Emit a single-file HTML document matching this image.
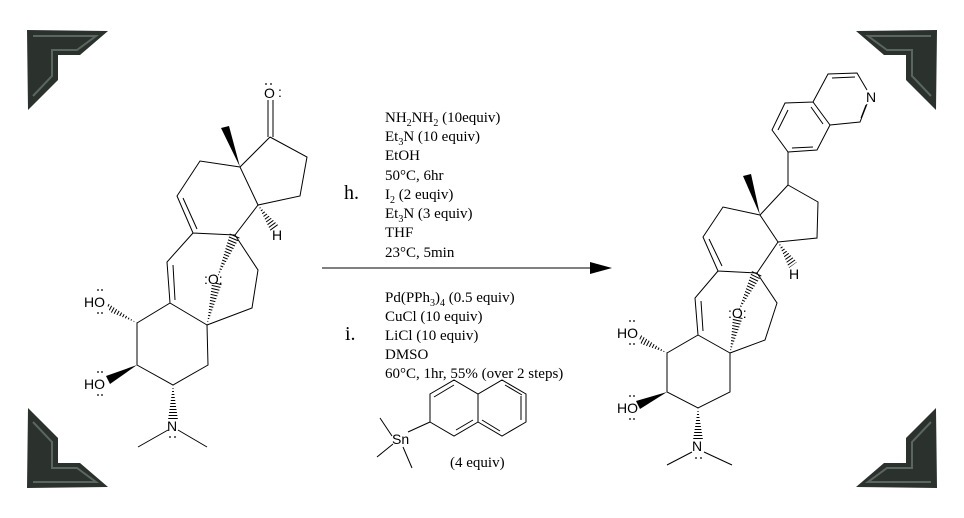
<!DOCTYPE html>
<html><head><meta charset="utf-8"><style>
html,body{margin:0;padding:0;background:#fff;}
svg{display:block;}
.s{font-family:"Liberation Serif",serif;font-size:15px;fill:#000;}
.a{font-family:"Liberation Sans",sans-serif;font-size:14px;fill:#000;}
</style></head><body>
<svg width="964" height="518" viewBox="0 0 964 518" xmlns="http://www.w3.org/2000/svg">
<defs>
<g id="corner">
<polygon points="27,30 108,31 80,55 58,55 58,80 28,110" fill="#2b312d"/>
<polyline points="33,36 96,36 77,50 52,50 52,76 33,96" fill="none" stroke="#5c6660" stroke-width="2"/>
</g>
<clipPath id="h1"><polygon points="137,323 106,302 110,312"/></clipPath>
<clipPath id="h2"><polygon points="258,205 279,226 271,232"/></clipPath>
<clipPath id="h3"><polygon points="217,278 230,233 240,237"/></clipPath>
<clipPath id="h4"><polygon points="212,283 222,283 207,325"/></clipPath>
<clipPath id="h5"><polygon points="173,385 168,420 178,420"/></clipPath>
<clipPath id="r1"><polygon points="667,353 638,333 641,344"/></clipPath>
<clipPath id="r2"><polygon points="778,242 797,262 789,268"/></clipPath>
<clipPath id="r3"><polygon points="738,312 752,271 762,275"/></clipPath>
<clipPath id="r4"><polygon points="733,317 743,317 730,353"/></clipPath>
<clipPath id="r5"><polygon points="698,408 693,440 703,440"/></clipPath>
</defs>
<use href="#corner"/>
<use href="#corner" transform="translate(964,0) scale(-1,1)"/>
<use href="#corner" transform="translate(0,518) scale(1,-1)"/>
<use href="#corner" transform="translate(964,518) scale(-1,-1)"/>

<g stroke="#000" stroke-width="1" fill="none">
<path d="M270,137 L307,157 L300,196 L258,205 L240,167 L270,137 M240,167 L200,161 L177,196 L193,233 L235,235 L258,205 M193,233 L167,262 L170,303 L137,323 L137,365 L173,385 L208,365 L207,325 L170,303 M207,325 L252,308 L258,270 L235,235 M168,430 L138,447 M178,430 L207,447"/>
<path d="M268,137 L268,100 M273,137 L273,100"/>
<path d="M183,198 L197,229 M173,265 L175,300"/>
<path d="M788,185 L818,202 L817,238 L778,242 L760,215 L788,185 M760,215 L723,207 L703,237 L718,271 L757,273 L778,242 M718,271 L695,298 L698,335 L667,353 L667,392 L698,408 L730,392 L730,353 L698,335 M730,353 L765,340 L777,303 L757,273 M692,452 L667,465 M704,452 L732,465"/>
<path d="M709,239 L722,266 M701,301 L703,331"/>
<path d="M788,185 L788,152 L772,130 L785,103 L813,102 L830,125 L817,150 L788,152 M813,102 L828,74 L857,73 L867,90 M867,104 L860,122 L830,125"/>
<path d="M778,130 L788,110 M792,148 L813,147 M811,107 L823,124 M832,78 L855,77 M861,118 L866,105"/>
<path d="M478,394 L478,422 L454,436 L430,422 L430,394 L454,380 L478,394 L502,380 L526,394 L526,422 L502,436 L478,422 M430,422 L408,432 M392,436 L380,418 M393,444 L377,457 M403,447 L412,468"/>
<path d="M434,397 L454,385 M473,420 L456,430 M505,385 L522,395 M521,396 L521,420 M500,431 L482,420"/>
<path d="M322,268 L596,268"/>
</g>
<polygon points="612,268 590,262 590,274" fill="#000"/>

<g stroke="#000" stroke-width="40" stroke-dasharray="1 2">
<line x1="137" y1="323" x2="106" y2="306" clip-path="url(#h1)"/>
<line x1="258" y1="205" x2="277" y2="231" clip-path="url(#h2)"/>
<line x1="217" y1="278" x2="235" y2="235" clip-path="url(#h3)"/>
<line x1="217" y1="283" x2="207" y2="325" clip-path="url(#h4)"/>
<line x1="173" y1="385" x2="173" y2="420" clip-path="url(#h5)"/>
<line x1="667" y1="353" x2="638" y2="338" clip-path="url(#r1)"/>
<line x1="778" y1="242" x2="795" y2="266" clip-path="url(#r2)"/>
<line x1="738" y1="312" x2="757" y2="273" clip-path="url(#r3)"/>
<line x1="738" y1="317" x2="730" y2="353" clip-path="url(#r4)"/>
<line x1="698" y1="408" x2="698" y2="440" clip-path="url(#r5)"/>
</g>
<g fill="#000">
<polygon points="240,167 221,128 229,126"/>
<polygon points="137,365 106,376 110,384"/>
<polygon points="760,215 743,176 751,174"/>
<polygon points="667,392 636,401 640,409"/>
</g>

<g class="a">
<text x="264" y="98">O</text><text x="278" y="97">:</text>
<text x="204" y="284">:O:</text>
<text x="272" y="240">H</text>
<text x="84" y="307">HO</text>
<text x="84" y="389">HO</text>
<text x="167" y="431">N</text>
<text x="728" y="318">:O:</text>
<text x="789" y="279">H</text>
<text x="866" y="102">N</text>
<text x="617" y="338">HO</text>
<text x="617" y="413">HO</text>
<text x="692" y="451">N</text>
<text x="392" y="444">Sn</text>
</g>
<g fill="#000">
<circle cx="266" cy="84" r="0.9"/><circle cx="271" cy="84" r="0.9"/>
<circle cx="98" cy="290" r="0.9"/><circle cx="102" cy="290" r="0.9"/>
<circle cx="98" cy="313" r="0.9"/><circle cx="102" cy="313" r="0.9"/>
<circle cx="98" cy="372" r="0.9"/><circle cx="102" cy="372" r="0.9"/>
<circle cx="98" cy="395" r="0.9"/><circle cx="102" cy="395" r="0.9"/>
<circle cx="170" cy="437" r="0.9"/><circle cx="175" cy="437" r="0.9"/>
<circle cx="630" cy="321" r="0.9"/><circle cx="634" cy="321" r="0.9"/>
<circle cx="630" cy="344" r="0.9"/><circle cx="634" cy="344" r="0.9"/>
<circle cx="630" cy="396" r="0.9"/><circle cx="634" cy="396" r="0.9"/>
<circle cx="630" cy="419" r="0.9"/><circle cx="634" cy="419" r="0.9"/>
<circle cx="696" cy="458" r="0.9"/><circle cx="701" cy="458" r="0.9"/>
</g>

<text class="s" x="344" y="199" style="font-size:20px">h.</text>
<g class="s">
<text x="385" y="122">NH<tspan font-size="10" dy="4">2</tspan><tspan dy="-4">NH</tspan><tspan font-size="10" dy="4">2</tspan><tspan dy="-4"> (10equiv)</tspan></text>
<text x="385" y="141">Et<tspan font-size="10" dy="4">3</tspan><tspan dy="-4">N (10 equiv)</tspan></text>
<text x="385" y="160">EtOH</text>
<text x="385" y="180">50°C, 6hr</text>
<text x="385" y="199">I<tspan font-size="10" dy="4">2</tspan><tspan dy="-4"> (2 euqiv)</tspan></text>
<text x="385" y="218">Et<tspan font-size="10" dy="4">3</tspan><tspan dy="-4">N (3 equiv)</tspan></text>
<text x="385" y="237">THF</text>
<text x="385" y="257">23°C, 5min</text>
</g>
<text class="s" x="345" y="340" style="font-size:20px">i.</text>
<g class="s">
<text x="385" y="302">Pd(PPh<tspan font-size="10" dy="4">3</tspan><tspan dy="-4">)</tspan><tspan font-size="10" dy="4">4</tspan><tspan dy="-4"> (0.5 equiv)</tspan></text>
<text x="385" y="321">CuCl (10 equiv)</text>
<text x="385" y="340">LiCl (10 equiv)</text>
<text x="385" y="359">DMSO</text>
<text x="385" y="378">60°C, 1hr, 55% (over 2 steps)</text>
<text x="450" y="467">(4 equiv)</text>
</g>
</svg>
</body></html>
